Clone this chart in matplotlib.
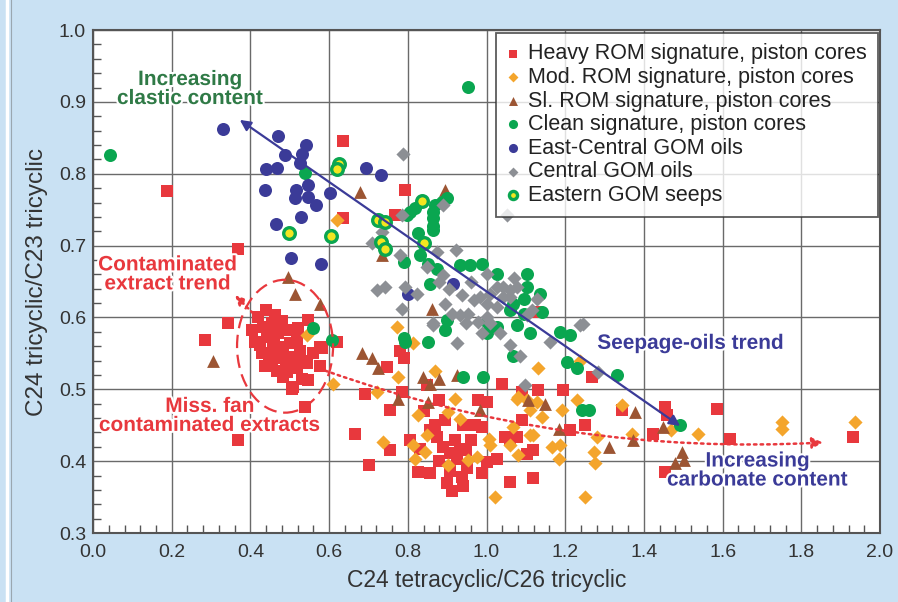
import matplotlib
matplotlib.use("Agg")
import matplotlib.pyplot as plt
import matplotlib.patheffects as pe
from matplotlib.patches import Ellipse
from matplotlib.lines import Line2D
from matplotlib.ticker import MultipleLocator

plt.rcParams['font.family'] = ['Liberation Sans', 'DejaVu Sans']

# --- data ----------------------------------------------------------------
heavy_x = [0.188, 0.369, 0.634, 0.636, 0.793, 0.767, 1.127,
           0.344, 0.285, 0.463, 0.454, 0.433, 0.403, 0.412, 0.441, 0.471, 0.492,
           0.458, 0.484, 0.446, 0.471, 0.501, 0.518, 0.547, 0.526, 0.539, 0.467,
           0.492, 0.518, 0.543, 0.581, 0.619, 0.577, 0.547, 0.509, 0.484, 0.539,
           0.424, 0.437, 0.577, 0.505, 0.46, 0.50, 0.43, 0.52, 0.455, 0.51, 0.49,
           0.56, 0.42, 0.44, 0.48, 0.53,
           0.369, 0.746, 0.691, 0.666, 0.755, 0.780, 0.789, 0.848, 0.784, 0.878,
           1.039, 0.979, 1.000, 0.895, 0.941, 0.988, 0.856, 0.873, 0.755, 0.806,
           0.831, 0.890, 0.907, 0.933, 0.924, 0.949, 1.000, 1.026, 1.060, 1.077,
           1.089, 0.702, 0.827, 0.856, 0.907, 0.937, 0.941, 0.912, 0.988, 1.060,
           1.267, 1.132, 1.195, 1.089, 1.343, 1.250, 1.212, 1.119, 1.454, 1.458,
           1.424, 1.585, 1.454, 1.619, 1.932, 1.102, 1.119, 1.047,
           0.87, 0.92, 0.96, 0.88, 0.95, 0.97, 0.84, 0.90]
heavy_y = [0.776, 0.696, 0.845, 0.738, 0.777, 0.742, 0.608,
           0.592, 0.569, 0.603, 0.592, 0.587, 0.582, 0.566, 0.573, 0.578, 0.582,
           0.559, 0.559, 0.547, 0.543, 0.545, 0.568, 0.596, 0.554, 0.540, 0.526,
           0.524, 0.529, 0.536, 0.557, 0.566, 0.533, 0.513, 0.503, 0.517, 0.475,
           0.561, 0.533, 0.559, 0.501, 0.575, 0.565, 0.55, 0.585, 0.535, 0.54, 0.535,
           0.55, 0.60, 0.61, 0.595, 0.515,
           0.429, 0.531, 0.494, 0.438, 0.471, 0.554, 0.543, 0.506, 0.496, 0.485,
           0.508, 0.485, 0.482, 0.457, 0.450, 0.448, 0.443, 0.434, 0.415, 0.429,
           0.417, 0.420, 0.411, 0.417, 0.403, 0.415, 0.399, 0.403, 0.429, 0.434,
           0.457, 0.394, 0.385, 0.383, 0.387, 0.378, 0.366, 0.359, 0.383, 0.371,
           0.517, 0.499, 0.499, 0.496, 0.471, 0.450, 0.443, 0.376, 0.475, 0.464,
           0.438, 0.473, 0.385, 0.431, 0.434, 0.410, 0.415, 0.434,
           0.45, 0.43, 0.43, 0.40, 0.39, 0.45, 0.47, 0.37]

mod_x = [0.619, 0.543, 0.611, 0.721, 0.738, 0.814, 0.776, 0.869, 0.920, 0.903,
         0.827, 0.933, 0.848, 0.814, 0.844, 0.818, 0.903, 0.954, 0.975, 1.005,
         1.009, 1.060, 1.081, 1.077, 1.022, 0.772, 1.132, 1.081, 1.127, 1.111,
         1.140, 1.068, 1.111, 1.166, 1.187, 1.183, 1.272, 1.276, 1.229, 1.250,
         1.191, 1.102, 1.119, 1.280, 1.343, 1.369, 1.538, 1.470, 1.238, 1.750,
         1.750, 1.936]
mod_y = [0.736, 0.575, 0.507, 0.496, 0.427, 0.564, 0.517, 0.526, 0.487, 0.468,
         0.464, 0.459, 0.436, 0.422, 0.413, 0.403, 0.394, 0.401, 0.406, 0.431,
         0.422, 0.422, 0.408, 0.487, 0.350, 0.587, 0.529, 0.489, 0.482, 0.471,
         0.462, 0.448, 0.436, 0.420, 0.422, 0.403, 0.413, 0.397, 0.485, 0.350,
         0.471, 0.485, 0.436, 0.434, 0.478, 0.438, 0.438, 0.443, 0.540, 0.455,
         0.445, 0.455]

sl_x = [0.679, 0.496, 0.895, 0.861, 0.734, 0.513, 0.577, 0.306, 0.683, 0.708,
        0.725, 0.839, 0.878, 0.856, 0.924, 0.776, 0.852, 0.983, 1.106, 1.149,
        1.183, 1.310, 1.377, 1.373, 1.449, 1.496, 1.479, 1.501]
sl_y = [0.775, 0.656, 0.777, 0.612, 0.687, 0.633, 0.619, 0.540, 0.550, 0.543,
        0.529, 0.517, 0.515, 0.508, 0.520, 0.487, 0.482, 0.471, 0.485, 0.480,
        0.445, 0.420, 0.468, 0.429, 0.448, 0.413, 0.397, 0.401]

clean_x = [0.043, 0.953, 0.539, 0.818, 0.806, 0.797, 0.869, 0.865, 0.865, 0.863,
           0.865, 0.886, 0.899, 0.827, 0.789, 0.831, 0.852, 0.873, 0.856, 0.933,
           0.958, 0.988, 1.026, 1.102, 1.102, 1.094, 1.136, 1.140, 1.068, 1.094,
           1.060, 0.899, 0.895, 1.000, 1.026, 1.077, 1.000, 1.187, 1.212, 0.789,
           1.204, 1.229, 1.331, 1.242, 1.260, 1.492, 0.560, 0.607, 0.793, 0.852,
           0.941, 0.992, 1.068, 1.111]
clean_y = [0.826, 0.921, 0.801, 0.752, 0.747, 0.742, 0.756, 0.747, 0.738, 0.728,
           0.722, 0.761, 0.766, 0.717, 0.677, 0.687, 0.675, 0.668, 0.647, 0.673,
           0.673, 0.675, 0.661, 0.661, 0.643, 0.626, 0.633, 0.608, 0.619, 0.605,
           0.610, 0.596, 0.582, 0.594, 0.587, 0.589, 0.578, 0.580, 0.575, 0.571,
           0.538, 0.529, 0.520, 0.471, 0.471, 0.450, 0.585, 0.568, 0.566, 0.566,
           0.517, 0.517, 0.547, 0.578]

east_x = [0.331, 0.469, 0.540, 0.488, 0.530, 0.526, 0.440, 0.468, 0.693, 0.731,
          0.437, 0.547, 0.516, 0.513, 0.547, 0.567, 0.602, 0.529, 0.465, 0.503,
          0.579, 0.916, 0.801]
east_y = [0.863, 0.852, 0.840, 0.826, 0.827, 0.815, 0.807, 0.808, 0.808, 0.798,
          0.778, 0.785, 0.777, 0.766, 0.768, 0.757, 0.773, 0.740, 0.730, 0.683,
          0.674, 0.646, 0.632]

central_x = [0.787, 0.889, 1.051, 0.784, 0.780, 0.873, 0.922, 0.848, 0.890, 0.880,
             0.742, 0.793, 0.823, 0.937, 0.784, 0.865, 0.895, 0.911, 0.933, 0.954,
             0.967, 0.983, 1.000, 1.009, 1.026, 1.043, 1.060, 1.077, 1.043, 1.060,
             1.026, 1.000, 1.009, 1.034, 1.115, 1.127, 1.238, 0.949, 0.979, 0.865,
             0.924, 0.988, 1.060, 1.085, 1.161, 1.246, 1.098, 1.102, 1.284, 0.734,
             0.708, 0.721, 0.905, 0.960, 1.000, 1.070]
central_y = [0.828, 0.756, 0.742, 0.742, 0.687, 0.691, 0.694, 0.670, 0.659, 0.650,
             0.642, 0.642, 0.633, 0.631, 0.612, 0.592, 0.619, 0.605, 0.603, 0.605,
             0.624, 0.629, 0.619, 0.633, 0.642, 0.642, 0.638, 0.642, 0.629, 0.629,
             0.615, 0.601, 0.592, 0.578, 0.610, 0.626, 0.589, 0.592, 0.594, 0.589,
             0.564, 0.578, 0.561, 0.547, 0.566, 0.591, 0.506, 0.603, 0.524, 0.719,
             0.703, 0.638, 0.640, 0.650, 0.660, 0.655]

seeps_x = [0.624, 0.619, 0.498, 0.604, 0.725, 0.742, 0.731, 0.742, 0.835, 0.842]
seeps_y = [0.814, 0.806, 0.717, 0.713, 0.735, 0.733, 0.705, 0.696, 0.762, 0.703]

labels = ["Heavy ROM signature, piston cores", "Mod. ROM signature, piston cores",
          "Sl. ROM signature, piston cores", "Clean signature, piston cores",
          "East-Central GOM oils", "Central GOM oils", "Eastern GOM seeps"]

RED = '#e8383d'
ORANGE = '#f4a52c'
BROWN = '#9c5533'
GREEN = '#0aa650'
NAVY = '#3b3b98'
GREY = '#8c8f94'
YELLOW = '#f3e620'

fig = plt.figure(figsize=(8.98, 6.02), dpi=100, facecolor='#c9e1f3')
ax = fig.add_axes([0.1036, 0.1146, 0.8764, 0.8354])

# thin frame line at the left edge of the panel
fig.add_artist(Line2D([0.008, 0.008], [0.0, 1.0], transform=fig.transFigure,
                      color='white', lw=2.5))
fig.add_artist(Line2D([0.012, 0.012], [0.0, 1.0], transform=fig.transFigure,
                      color='#9aa7b0', lw=0.8))

ax.scatter(heavy_x, heavy_y, marker='s', s=64, color=RED, lw=0, label=labels[0], zorder=3)
ax.scatter(mod_x, mod_y, marker='D', s=52, color=ORANGE, lw=0, label=labels[1], zorder=3)
ax.scatter(sl_x, sl_y, marker='^', s=85, color=BROWN, lw=0, label=labels[2], zorder=3)
ax.scatter(clean_x, clean_y, marker='o', s=88, color=GREEN, lw=0, label=labels[3], zorder=3)
ax.scatter(east_x, east_y, marker='o', s=88, color=NAVY, lw=0, label=labels[4], zorder=3)
ax.scatter(central_x, central_y, marker='D', s=52, color=GREY, lw=0, label=labels[5], zorder=3)
ax.scatter(seeps_x, seeps_y, marker='o', s=70, color=YELLOW, edgecolors=GREEN,
           lw=2.4, label=labels[6], zorder=4)

ax.set_xlim(0, 2.0)
ax.set_ylim(0.3, 1.0)
ax.xaxis.set_major_locator(MultipleLocator(0.2))
ax.yaxis.set_major_locator(MultipleLocator(0.1))
ax.xaxis.set_minor_locator(MultipleLocator(0.04))
ax.yaxis.set_minor_locator(MultipleLocator(0.02))
ax.xaxis.set_major_formatter(lambda v, p: f"{v:.1f}")
ax.yaxis.set_major_formatter(lambda v, p: f"{v:.1f}")
ax.grid(True, which='major', color='#6a6a6a', lw=1.0, zorder=0)
ax.set_axisbelow(True)
ax.tick_params(which='both', direction='in', top=False, right=False, colors='#555555',
               labelcolor='#333333', labelsize=14)
ax.tick_params(which='major', length=0, pad=5)
ax.tick_params(axis='x', which='major', pad=8)
ax.tick_params(which='minor', length=6, width=1)
for s in ax.spines.values():
    s.set_color('#555555')
    s.set_linewidth(1.5)

ax.set_xlabel("C24 tetracyclic/C26 tricyclic", fontsize=16.5, color='#333333', labelpad=6)
ax.set_ylabel("C24 tricyclic/C23 tricyclic", fontsize=17.5, color='#333333', labelpad=8)

leg = ax.legend(loc='upper right', bbox_to_anchor=(0.997, 0.995), fontsize=15.5,
                frameon=True, fancybox=False, edgecolor='#333333', handletextpad=0.4,
                labelspacing=0.12, borderpad=0.5, markerscale=0.7, handlelength=0.6,
                borderaxespad=0)
leg.get_frame().set_linewidth(1.3)
for t in leg.get_texts():
    t.set_color('#222222')

halo = [pe.withStroke(linewidth=3, foreground='white')]

# seepage-oils trend arrow
ax.annotate("", xy=(0.373, 0.875), xytext=(1.492, 0.449),
            arrowprops=dict(arrowstyle='<|-|>', color=NAVY, lw=1.6,
                            mutation_scale=16, shrinkA=0, shrinkB=0), zorder=5)
ax.text(1.52, 0.564, "Seepage-oils trend", color=NAVY, fontsize=15, fontweight='bold',
        ha='center', va='center', path_effects=halo, zorder=6)
ax.text(1.689, 0.387, "Increasing\ncarbonate content", color=NAVY, fontsize=15,
        fontweight='bold', ha='center', va='center', linespacing=1.0,
        path_effects=halo, zorder=6)
ax.text(0.247, 0.918, "Increasing\nclastic content", color='#2f7a46', fontsize=15,
        fontweight='bold', ha='center', va='center', linespacing=1.0,
        path_effects=halo, zorder=6)

# contamination annotations
ax.add_patch(Ellipse((0.488, 0.56), 0.244, 0.185, fill=False, ec=RED, lw=1.6,
                     ls=(0, (6, 3)), zorder=5))
ax.annotate("", xy=(0.361, 0.631), xytext=(0.43, 0.593),
            arrowprops=dict(arrowstyle='-|>', color=RED, lw=1.8, ls=':',
                            mutation_scale=14, shrinkA=0, shrinkB=0), zorder=5)
ax.annotate("", xy=(1.855, 0.426), xytext=(0.59, 0.526),
            arrowprops=dict(arrowstyle='-|>', color=RED, lw=1.8, ls=':',
                            mutation_scale=16, shrinkA=0, shrinkB=0,
                            connectionstyle='arc3,rad=0.1'), zorder=5)
ax.text(0.19, 0.66, "Contaminated\nextract trend", color=RED, fontsize=15,
        fontweight='bold', ha='center', va='center', linespacing=1.0,
        path_effects=halo, zorder=6)
ax.text(0.297, 0.463, "Miss. fan\ncontaminated extracts", color=RED, fontsize=15,
        fontweight='bold', ha='center', va='center', linespacing=1.0,
        path_effects=halo, zorder=6)

fig.savefig("out.png", dpi=100, facecolor=fig.get_facecolor())
